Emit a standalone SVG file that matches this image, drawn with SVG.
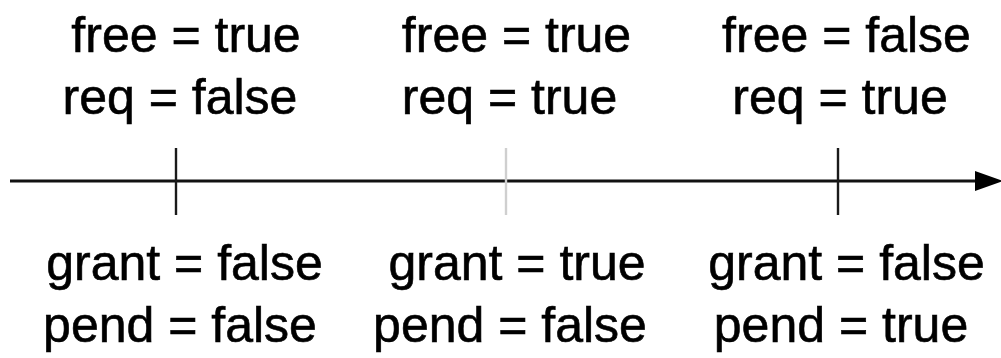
<svg xmlns="http://www.w3.org/2000/svg" width="1001" height="358" viewBox="0 0 1001 358">
<style>
  .lbl { font-family: "Liberation Sans", Arial, Helvetica, sans-serif; font-size: 50px; fill: #000; stroke: #000; stroke-width: 0.6; text-anchor: middle; }
  .tick { stroke: #1a1a1a; stroke-width: 2.4; }
  .tick.faint { stroke: #cfcfcf; }
  .axis { stroke: #111; stroke-width: 3; fill: none; }
</style>
<defs>
  <marker id="arrow" markerWidth="28" markerHeight="20" refX="0" refY="10" orient="auto" markerUnits="userSpaceOnUse">
    <polygon points="0,0 28,10 0,20" fill="#000"/>
  </marker>
</defs>
<rect width="1001" height="358" fill="#fff"/>
<g id="connectors">
  <line class="axis" x1="10" y1="181" x2="975" y2="181" marker-end="url(#arrow)"/>
</g>
<g id="state1">
  <line class="tick" x1="176" y1="148" x2="176" y2="215"/>
  <text class="lbl" x="186" y="52">free = true</text>
  <text class="lbl" x="180" y="114">req = false</text>
  <text class="lbl" x="184.5" y="280">grant = false</text>
  <text class="lbl" x="180" y="342">pend = false</text>
</g>
<g id="state2">
  <line class="tick faint" x1="506" y1="148" x2="506" y2="215"/>
  <text class="lbl" x="516.5" y="52">free = true</text>
  <text class="lbl" x="509.5" y="114">req = true</text>
  <text class="lbl" x="517" y="280">grant = true</text>
  <text class="lbl" x="510" y="342">pend = false</text>
</g>
<g id="state3">
  <line class="tick" x1="838" y1="148" x2="838" y2="215"/>
  <text class="lbl" x="846.5" y="52">free = false</text>
  <text class="lbl" x="840" y="114">req = true</text>
  <text class="lbl" x="846.5" y="280">grant = false</text>
  <text class="lbl" x="841" y="342">pend = true</text>
</g>
</svg>
